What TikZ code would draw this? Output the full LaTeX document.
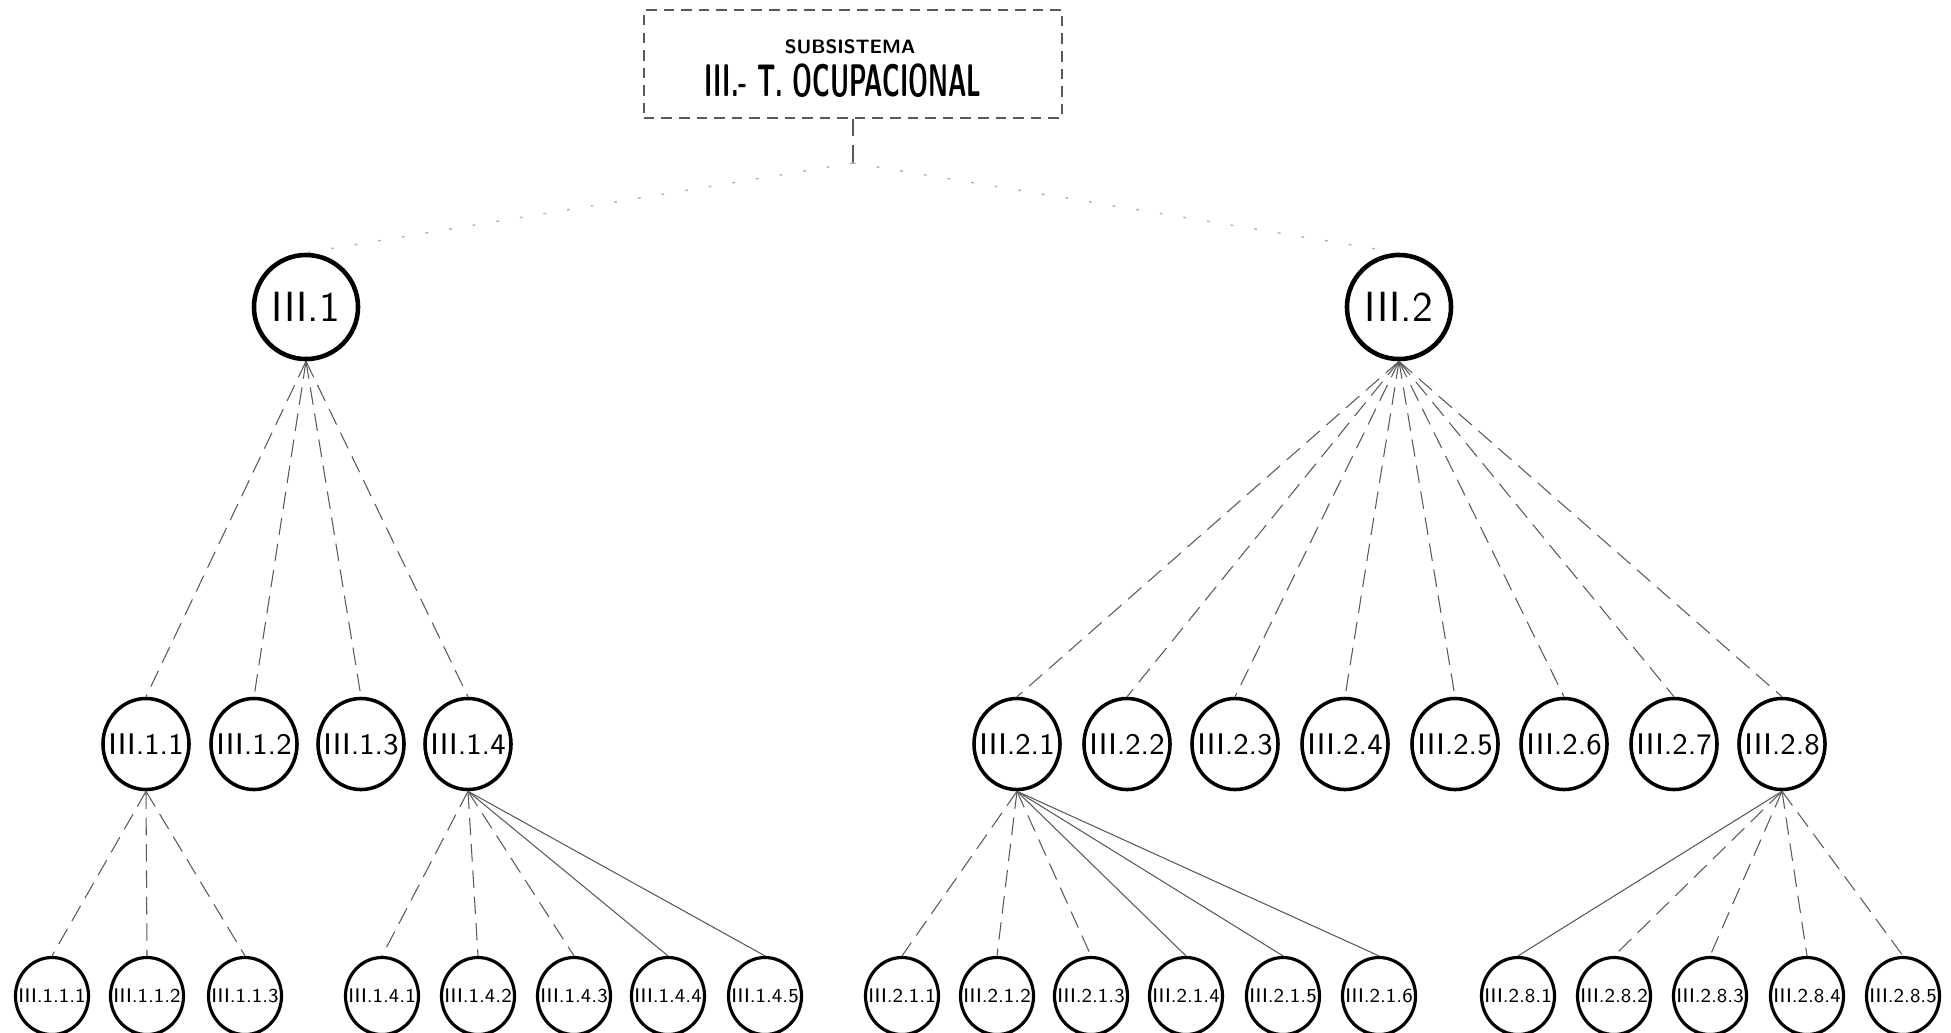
\documentclass[tikz,border=0pt]{standalone}
\usepackage{tikz}
\usetikzlibrary{shapes.geometric}

\newcommand{\nlabel}[1]{\makebox[0pt]{#1}}

\tikzset{
  topnode/.style={circle, draw, line width=1.3pt, minimum size=1.04cm, inner sep=0pt, font=\sffamily\fontsize{12}{14}\selectfont},
  midnode/.style={ellipse, draw, line width=1pt, minimum width=0.86cm, minimum height=0.91cm, inner sep=0pt, font=\sffamily\fontsize{8.5}{10}\selectfont},
  leafnode/.style={ellipse, draw, line width=0.9pt, minimum width=0.73cm, minimum height=0.77cm, inner sep=0pt, font=\sffamily\fontsize{5.6}{7}\selectfont},
  link/.style={gray!70!black, line width=0.3pt, dash pattern=on 5pt off 2.5pt},
  solidlink/.style={gray!70!black, line width=0.3pt},
  faintlink/.style={gray!60, line width=0.4pt, dash pattern=on 0.8pt off 6pt},
}

\begin{document}
\begin{tikzpicture}[x=0.01cm,y=-0.01cm]
\useasboundingbox (0,0) rectangle (1951,1032);

% subsystem box
\node[draw=gray!70!black, densely dashed, line width=0.4pt, minimum width=4.18cm, minimum height=1.08cm, inner sep=0pt] (root) at (853,64) {};
\node[font=\sffamily\bfseries\fontsize{5.5}{6}\selectfont] (rootsub) at (850,47) {SUBSISTEMA};
\node[font=\sffamily\bfseries\fontsize{13}{14}\selectfont] (roottitle) at (843,81) {\scalebox{0.55}[1]{III.- T. OCUPACIONAL}};
\coordinate (stem) at (853,163);

% first level
\node[topnode] (n1) at (306,307) {\nlabel{III.1}};
\node[topnode] (n2) at (1399,307) {\nlabel{III.2}};

% second level
\foreach \nm/\x/\t in {n11/146/III.1.1, n12/254/III.1.2, n13/361/III.1.3, n14/468/III.1.4,
  n21/1017/III.2.1, n22/1127/III.2.2, n23/1235/III.2.3, n24/1345/III.2.4,
  n25/1455/III.2.5, n26/1564/III.2.6, n27/1674/III.2.7, n28/1782/III.2.8}
  \node[midnode] (\nm) at (\x,744) {\nlabel{\t}};

% third level
\foreach \nm/\x/\t in {n111/52/III.1.1.1, n112/147/III.1.1.2, n113/245/III.1.1.3,
  n141/382/III.1.4.1, n142/478/III.1.4.2, n143/574/III.1.4.3, n144/668/III.1.4.4, n145/765/III.1.4.5,
  n211/902/III.2.1.1, n212/997/III.2.1.2, n213/1091/III.2.1.3, n214/1186/III.2.1.4, n215/1283/III.2.1.5, n216/1379/III.2.1.6,
  n281/1518/III.2.8.1, n282/1614/III.2.8.2, n283/1710/III.2.8.3, n284/1807/III.2.8.4, n285/1903/III.2.8.5}
  \node[leafnode] (\nm) at (\x,996) {\nlabel{\t}};

% connectors
\draw[link] (root.south) -- (stem);
\draw[faintlink] (stem) -- (n1.north);
\draw[faintlink] (stem) -- (n2.north);
\foreach \c in {n11,n12,n13,n14} \draw[link] (n1.south) -- (\c.north);
\foreach \c in {n21,n22,n23,n24,n25,n26,n27,n28} \draw[link] (n2.south) -- (\c.north);
\foreach \c in {n111,n112,n113} \draw[link] (n11.south) -- (\c.north);
\foreach \c in {n141,n142,n143} \draw[link] (n14.south) -- (\c.north);
\foreach \c in {n144,n145} \draw[solidlink] (n14.south) -- (\c.north);
\foreach \c in {n211,n212,n213} \draw[link] (n21.south) -- (\c.north);
\foreach \c in {n214,n215,n216} \draw[solidlink] (n21.south) -- (\c.north);
\draw[solidlink] (n28.south) -- (n281.north);
\foreach \c in {n282,n283,n284,n285} \draw[link] (n28.south) -- (\c.north);
\end{tikzpicture}
\end{document}
